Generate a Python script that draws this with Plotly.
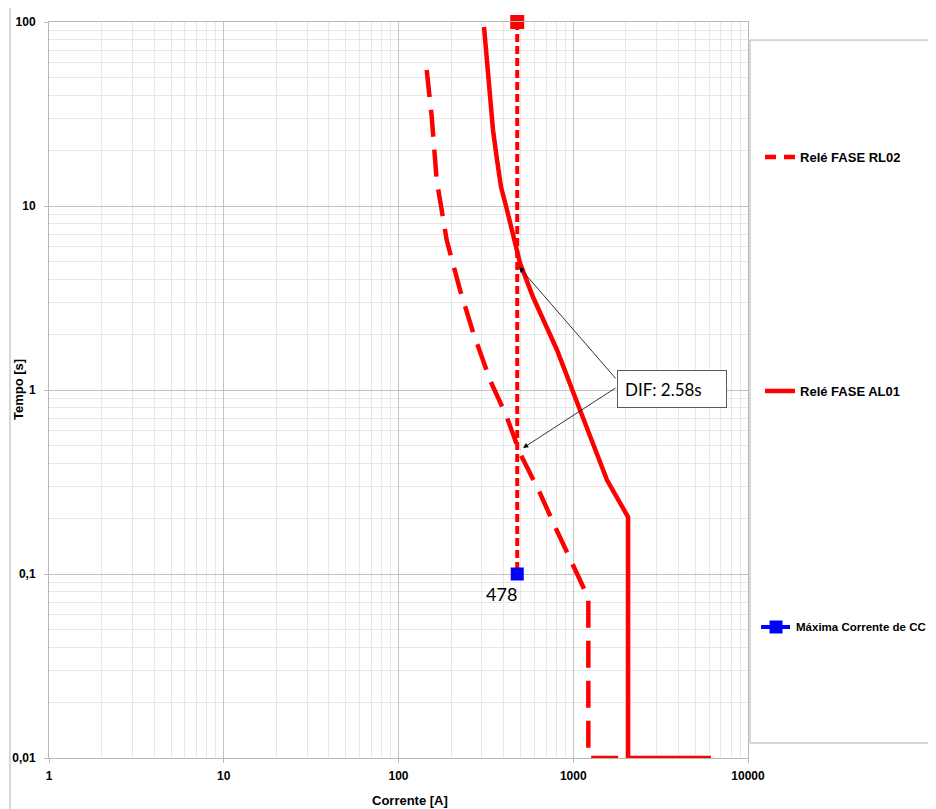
import math
import plotly.graph_objects as go

# ---------------- data ----------------
rl02_current = [145.0, 154.9, 165.4, 188.7, 224.9, 268.0, 333.9, 416.1, 495.8, 645.1, 804.2, 1000.7, 1093, 1220, 1220, 2060]
rl02_time    = [54.8, 30.6, 13.8, 6.53, 3.50, 2.04, 1.133, 0.716, 0.453, 0.275, 0.173, 0.1096, 0.0908, 0.074, 0.01, 0.01]

al01_current = [308.6, 325.2, 347.4, 366.2, 386.0, 417.8, 458.1, 495.8, 588.4, 807.3, 1093, 1560, 2060, 2060, 6140]
al01_time    = [93.9, 52.8, 25.9, 17.8, 12.7, 9.51, 6.78, 4.90, 3.20, 1.65, 0.778, 0.324, 0.204, 0.01, 0.01]

max_cc_current = [478, 478]
max_cc_time = [100, 0.1]
max_cc_label = "478"

dif_text = "DIF: 2.58s"
dif_points_current = [490, 516]
dif_points_time = [4.66, 0.484]
dif_box_current = 3673
dif_box_time = 1.01

x_tickvals = [1, 10, 100, 1000, 10000]
x_ticktext = ["1", "10", "100", "1000", "10000"]
y_tickvals = [0.01, 0.1, 1, 10, 100]
y_ticktext = ["0,01", "0,1", "1", "10", "100"]

x_title = "Corrente [A]"
y_title = "Tempo [s]"

# minor gridlines at 2..9 of each decade
x_minor = [m * 10 ** d for d in range(0, 4) for m in range(2, 10)]
y_minor = [m * 10 ** d for d in range(-2, 2) for m in range(2, 10)]

# ---------------- figure ----------------
RED = "#ff0000"
BLUE = "#0000ff"
FONT = "Liberation Sans"

fig = go.Figure()

fig.add_trace(go.Scatter(
    x=rl02_current, y=rl02_time, mode="lines", name="Relé FASE RL02",
    line=dict(color=RED, width=4.5, dash="27px,13px"), showlegend=False,
))
fig.add_trace(go.Scatter(
    x=al01_current, y=al01_time, mode="lines", name="Relé FASE AL01",
    line=dict(color=RED, width=4.5), legend="legend2",
))
fig.add_trace(go.Scatter(
    x=max_cc_current, y=max_cc_time, mode="lines",
    line=dict(color=RED, width=4, dash="8px,4px"),
    showlegend=False, hoverinfo="skip",
))
fig.add_trace(go.Scatter(
    x=max_cc_current[:1], y=max_cc_time[:1], mode="markers",
    marker=dict(symbol="square", color=RED, size=14, opacity=1, line=dict(width=0)),
    showlegend=False, hoverinfo="skip", cliponaxis=False,
))
fig.add_trace(go.Scatter(
    x=max_cc_current[1:], y=max_cc_time[1:], mode="lines+markers",
    name="Máxima Corrente de CC",
    line=dict(color=BLUE, width=4, dash="10px,3px,3px,3px"),
    marker=dict(symbol="square", color=BLUE, size=13),
    legend="legend3", cliponaxis=False,
))
fig.add_trace(go.Scatter(
    x=[None], y=[None], mode="lines", name="Relé FASE RL02",
    line=dict(color=RED, width=4.5, dash="11px,8px"), legend="legend",
))

lg = math.log10
annotations = [
    dict(x=lg(dif_box_current), y=lg(dif_box_time), xref="x", yref="y",
         text=dif_text, showarrow=False, align="left",
         font=dict(family="Lato", size=17, color="#000000"),
         bgcolor="#ffffff", bordercolor="#595959", borderwidth=1,
         borderpad=7, width=94, height=22),
    dict(x=lg(max_cc_current[1]), y=lg(max_cc_time[1]), xref="x", yref="y",
         text=max_cc_label, showarrow=False, xshift=-16, yshift=-20,
         font=dict(family="Lato", size=18, color="#000000")),
    dict(x=0.5165, y=-0.0571, xref="paper", yref="paper", text=x_title,
         xanchor="center", yanchor="middle",
         showarrow=False, font=dict(family=FONT, size=13, weight="bold")),
    dict(x=-0.0443, y=0.5, xref="paper", yref="paper", text=y_title, textangle=-90,
         xanchor="center", yanchor="middle",
         showarrow=False, font=dict(family=FONT, size=13, weight="bold")),
]
tail_x = 3.2504
for cx, ty, tail_y in zip(dif_points_current, dif_points_time, [0.0543, 0.0163]):
    annotations.append(dict(
        x=lg(cx), y=lg(ty), xref="x", yref="y",
        ax=tail_x, ay=tail_y, axref="x", ayref="y",
        text="", showarrow=True, arrowhead=2, arrowsize=1.3,
        arrowwidth=0.8, arrowcolor="#000000",
    ))

GRID_MAJOR = "#c4c4c4"
GRID_MINOR = "#e8e8e8"
AXLINE = "#b8b8b8"

legend_common = dict(xanchor="left", yanchor="middle", bgcolor="rgba(0,0,0,0)")
legend_font = dict(family=FONT, size=13, weight="bold")

fig.update_layout(
    width=928, height=801,
    margin=dict(l=41, r=188, t=14, b=51, autoexpand=False),
    paper_bgcolor="#ffffff", plot_bgcolor="#ffffff",
    font=dict(family=FONT, color="#000000"),
    annotations=annotations,
    legend=dict(x=1.0172, y=0.8166, font=legend_font, **legend_common),
    legend2=dict(x=1.0172, y=0.4986, font=legend_font, **legend_common),
    legend3=dict(x=1.0115, y=0.178, font=dict(family=FONT, size=11.5, weight="bold"),
                 **legend_common),
    shapes=[
        dict(type="rect", xref="paper", yref="paper", x0=1.0029, x1=1.35,
             y0=0.0204, y1=0.9755, line=dict(color="#b0b0b0", width=1), layer="below"),
        dict(type="line", xref="paper", yref="paper", x0=-0.0558, x1=-0.0558,
             y0=-0.1, y1=1.05, line=dict(color="#b0b0b0", width=1)),
    ],
)

fig.update_xaxes(
    type="log", range=[0, 4], tickmode="array", tickvals=x_tickvals, ticktext=x_ticktext,
    tickfont=dict(family=FONT, size=12, weight="bold"), ticklabelstandoff=3,
    showgrid=True, gridcolor=GRID_MAJOR, gridwidth=1,
    minor=dict(tickmode="array", tickvals=x_minor, showgrid=True, gridcolor=GRID_MINOR, ticks=""),
    showline=True, linecolor=AXLINE, linewidth=1, mirror=True,
    ticks="outside", ticklen=4, tickcolor=AXLINE, zeroline=False, automargin=False,
)
fig.update_yaxes(
    type="log", range=[-2, 2], tickmode="array", tickvals=y_tickvals, ticktext=y_ticktext,
    tickfont=dict(family=FONT, size=12, weight="bold"), ticklabelstandoff=6,
    showgrid=True, gridcolor=GRID_MAJOR, gridwidth=1,
    minor=dict(tickmode="array", tickvals=y_minor, showgrid=True, gridcolor=GRID_MINOR, ticks=""),
    showline=True, linecolor=AXLINE, linewidth=1, mirror=True,
    ticks="outside", ticklen=4, tickcolor=AXLINE, zeroline=False, automargin=False,
)

fig.write_html("out.html")
